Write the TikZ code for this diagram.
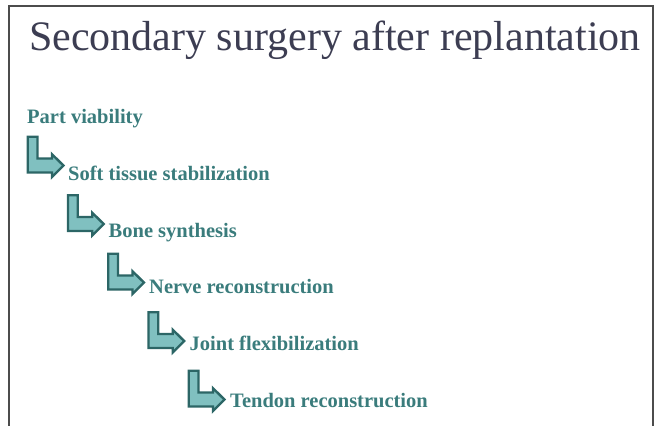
\documentclass[tikz,border=0pt]{standalone}
\usepackage{fontspec}
\setmainfont{Liberation Serif}
\definecolor{tealtext}{HTML}{3A7C7C}
\definecolor{tealfill}{HTML}{80C0C0}
\definecolor{tealline}{HTML}{2C6666}
\definecolor{titlegray}{HTML}{3C3D52}
\tikzset{
  item/.style={anchor=base west, inner sep=0pt, text=tealtext,
    font=\fontsize{20.5}{24}\selectfont\bfseries},
  arrowline/.style={draw=tealline, fill=tealfill, line width=2.4pt, line join=miter},
  bentarrow/.pic={\path[arrowline] (1.2,1.2) -- (11,1.2) -- (11,23) -- (25.5,23) -- (25.5,18.8)
    -- (37,30) -- (25.5,41.5) -- (25.5,37) -- (1.2,37) -- cycle;}
}
\begin{document}
\begin{tikzpicture}[x=1pt, y=-1pt]
    \useasboundingbox (0,0) rectangle (657,426);
    \draw[gray!60!black, line width=1.4pt] (9,426)--(9,6)--(653,6)--(653,426);
    \node[anchor=base west, inner sep=0pt, text=titlegray,
      font=\fontsize{42}{50}\selectfont] (title) at (29,50) {Secondary surgery after replantation};
    \node[item] (part) at (27,123.5) {Part viability};
    \node[item] (soft) at (68,180.3) {Soft tissue stabilization};
    \node[item] (bone) at (108.5,237.1) {Bone synthesis};
    \node[item] (nerve) at (149,293.9) {Nerve reconstruction};
    \node[item] (joint) at (189.5,350.7) {Joint flexibilization};
    \node[item] (tendon) at (230,407.5) {Tendon reconstruction};
    \foreach \i in {0,...,4}
      \pic at (26.5+40.25*\i, 135.5+58.5*\i) {bentarrow};
\end{tikzpicture}
\end{document}
